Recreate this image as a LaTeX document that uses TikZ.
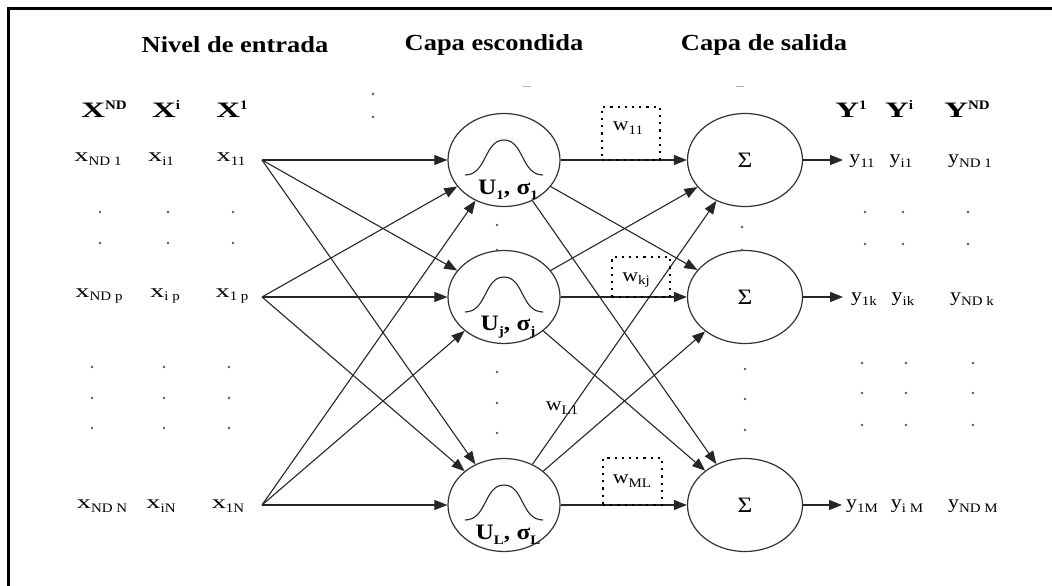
\documentclass[tikz,border=0pt]{standalone}
\usepackage{fontspec}
\setmainfont[FakeStretch=1.15]{Liberation Serif}
\usetikzlibrary{arrows.meta,shapes.geometric}
\newcommand\lsb[1]{\raisebox{-0.45ex}{\fontsize{13}{13}\selectfont #1}}
\newcommand\lsp[1]{\raisebox{0.8ex}{\fontsize{13}{13}\selectfont #1}}
\newcommand\wx[1]{\scalebox{1.3}[1]{#1}}
\begin{document}
\begin{tikzpicture}[x=1pt,y=-1pt,
  hdr/.style={font=\fontsize{23}{25}\selectfont\bfseries, inner sep=0},
  capt/.style={font=\fontsize{22}{23}\selectfont\bfseries, inner sep=0},
  lbl/.style={font=\fontsize{19}{20}\selectfont, inner sep=0},
  neur/.style={draw=black!80, line width=1.2pt, ellipse, minimum width=112pt, minimum height=93pt, inner sep=0, font=\fontsize{22}{22}\selectfont},
  conn/.style={draw=black!85, line width=1.1pt, -{Triangle[length=13pt,width=10pt]}},
  wbox/.style={draw, line width=2.2pt, dash pattern=on 2.2pt off 5pt, inner sep=0},
  dotm/.style={fill=black!65},
  bump/.style={draw=black!85, line width=1.1pt}
]
\useasboundingbox (0,0) rectangle (1052,586);
\draw[line width=3pt] (1052,9) -- (8,9) -- (8,586);
% headers
\node[hdr] (t1) at (235,45) {Nivel de entrada};
\node[hdr] (t2) at (494,45) {Capa escondida};
\node[hdr] (t3) at (764,45) {Capa de salida};
% input column headers
\node[capt] (X3) at (104,109) {\wx{X}\lsp{ND}};
\node[capt] (X2) at (166,109) {\wx{X}\lsp{i}};
\node[capt] (X1) at (232,109) {\wx{X}\lsp{1}};
% output column headers
\node[capt] (Y1) at (851,109) {\wx{Y}\lsp{1}};
\node[capt] (Y2) at (899,109) {\wx{Y}\lsp{i}};
\node[capt] (Y3) at (967,109) {\wx{Y}\lsp{ND}};
% input labels
\node[lbl] (xa1) at (98,159) {\wx{x}\lsb{ND 1}};
\node[lbl] (xb1) at (161,159) {\wx{x}\lsb{i1}};
\node[lbl] (xc1) at (231,159) {\wx{x}\lsb{11}};
\node[lbl] (xap) at (99,296) {\wx{x}\lsb{ND p}};
\node[lbl] (xbp) at (165,296) {\wx{x}\lsb{i p}};
\node[lbl] (xcp) at (232,296) {\wx{x}\lsb{1 p}};
\node[lbl] (xaN) at (102,506) {\wx{x}\lsb{ND N}};
\node[lbl] (xbN) at (161,506) {\wx{x}\lsb{iN}};
\node[lbl] (xcN) at (228,506) {\wx{x}\lsb{1N}};
\coordinate (i1) at (262,160);
\coordinate (ip) at (262,297);
\coordinate (iN) at (262,505);
% neurons
\node[neur] (h1) at (504,160) {};
\node[neur] (hj) at (504,297) {};
\node[neur] (hL) at (504,505) {};
\node[neur, minimum width=115pt] (o1) at (745,160) {Σ};
\node[neur, minimum width=115pt] (ok) at (745,297) {Σ};
\node[neur, minimum width=115pt] (oM) at (745,505) {Σ};
% bumps and labels
\foreach \h in {h1,hj,hL}
  \draw[bump] ([shift={(-39,15)}]\h.center) .. controls +(22,0) and +(-20,0) .. ([shift={(0,-20)}]\h.center)
     .. controls +(20,0) and +(-22,0) .. ([shift={(39,15)}]\h.center);
\node[capt] (lu1) at ([shift={(4,30)}]h1.center) {U\lsb{1}, σ\lsb{1}};
\node[capt] (luj) at ([shift={(4,30)}]hj.center) {U\lsb{j}, σ\lsb{j}};
\node[capt] (luL) at ([shift={(4,30)}]hL.center) {U\lsb{L}, σ\lsb{L}};
% connections
\foreach \a in {i1,ip,iN}
  \foreach \b in {h1,hj,hL}
    \draw[conn] (\a) -- (\b);
\foreach \a in {h1,hj,hL}
  \foreach \b in {o1,ok,oM}
    \draw[conn] (\a) -- (\b);
% outputs
\coordinate (e1) at (843,160);
\coordinate (ek) at (843,297);
\coordinate (eM) at (842,505);
\draw[conn] (o1) -- (e1);
\draw[conn] (ok) -- (ek);
\draw[conn] (oM) -- (eM);
\node[lbl] (ya1) at (862,161) {y\lsb{11}};
\node[lbl] (yb1) at (901,161) {y\lsb{i1}};
\node[lbl] (yc1) at (970,161) {y\lsb{ND 1}};
\node[lbl] (yak) at (864,299) {y\lsb{1k}};
\node[lbl] (ybk) at (903,299) {y\lsb{ik}};
\node[lbl] (yck) at (972,299) {y\lsb{ND k}};
\node[lbl] (yaM) at (862,506) {y\lsb{1M}};
\node[lbl] (ybM) at (907,506) {y\lsb{i M}};
\node[lbl] (ycM) at (973,506) {y\lsb{ND M}};
% weights
\node[wbox, minimum width=58pt, minimum height=53pt] (wb1) at (631,133.5) {};
\node[lbl] (w1) at (628,128) {w\lsb{11}};
\node[wbox, minimum width=58pt, minimum height=40pt] (wb2) at (641,277) {};
\node[lbl] (w2) at (636,280) {w\lsb{kj}};
\node[wbox, minimum width=59pt, minimum height=47pt] (wb3) at (632.5,481.5) {};
\node[lbl] (w3) at (632,481) {w\lsb{ML}};
\node[lbl] (w4) at (562,408) {w\lsb{L1}};
% ellipsis dots
\foreach \x/\y in {100/212,168/212,233/212,100/243,168/243,233/243,
                   92/367,164/367,229/367,92/398,164/398,229/398,92/428,164/428,229/428,
                   373/94,373/117,
                   497/225,497/250,497/372,497/403,497/433,
                   742/227,742/250,745/369,745/399,745/430,
                   865/212,903/212,968/212,865/244,903/244,968/244,
                   862/363,906/363,973/363,862/393,906/393,973/393,862/425,906/425,973/425}
  \fill[dotm] (\x,\y) circle (1.3);
\draw[black!30, line width=1pt] (523,86) -- (531,86);
\draw[black!30, line width=1pt] (736,86) -- (744,86);
\end{tikzpicture}
\end{document}
